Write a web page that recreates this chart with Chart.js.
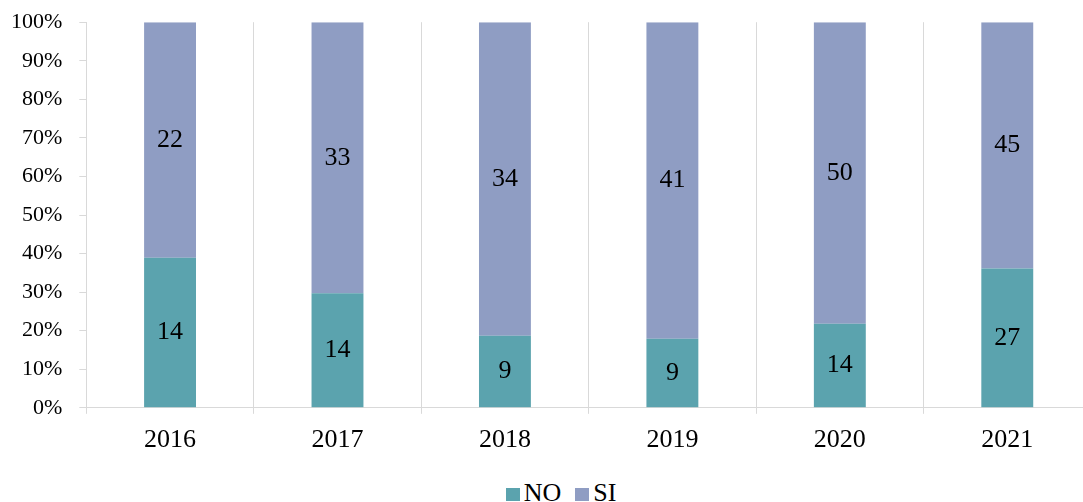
<!DOCTYPE html>
<html>
<head>
<meta charset="utf-8">
<script src="https://cdn.jsdelivr.net/npm/chart.js@4"></script>
<style>
    html, body { margin: 0; padding: 0; background: #fff; overflow: hidden; }
    .page { position: relative; width: 1122px; height: 502px; overflow: hidden; }
    .wrap { width: 1122px; height: 475px; margin-top: -8px; }
    .legend {
        position: absolute; left: 0; top: 478px; width: 1122px;
        text-align: center; line-height: 30px;
        font-family: 'Liberation Serif', 'Times New Roman', serif; font-size: 26px; color: #000;
    }
    .legend .item { display: inline-block; margin: 0 7px; }
    .legend .box { display: inline-block; width: 14px; height: 13px; margin-right: 4px; }
</style>
</head>
<body>
<div class="page">
    <div class="wrap"><canvas id="chart"></canvas></div>
    <div class="legend"></div>
</div>
<script>
var years = ["2016", "2017", "2018", "2019", "2020", "2021"];
// counts shown on the bars
var noCounts = [14, 14, 9, 9, 14, 27];
var siCounts = [22, 33, 34, 41, 50, 45];
// share of each year
var noPct = [38.9, 29.7, 18.7, 17.9, 21.8, 36.1];
var siPct = [61.1, 70.3, 81.3, 82.1, 78.2, 63.9];

var font = "'Liberation Serif', 'Times New Roman', serif";

// draw the counts in the middle of each segment
var countLabels = {
    id: "countLabels",
    afterDatasetsDraw: function(chart) {
        var ctx = chart.ctx;
        ctx.save();
        ctx.fillStyle = "#000";
        ctx.font = "26px " + font;
        ctx.textAlign = "center";
        ctx.textBaseline = "middle";
        chart.data.datasets.forEach(function(ds, i) {
            var meta = chart.getDatasetMeta(i);
            meta.data.forEach(function(bar, j) {
                var mid = (bar.y + bar.base) / 2;
                ctx.fillText(ds.counts[j], bar.x, mid);
            });
        });
        ctx.restore();
    }
};

var chart = new Chart(document.getElementById("chart"), {
    type: "bar",
    data: {
        labels: years,
        datasets: [{
            label: "NO",
            data: noPct,
            counts: noCounts,
            backgroundColor: "#5ba3ae",
            barPercentage: 0.31,
            categoryPercentage: 1
        }, {
            label: "SI",
            data: siPct,
            counts: siCounts,
            backgroundColor: "#8f9dc3",
            barPercentage: 0.31,
            categoryPercentage: 1
        }]
    },
    options: {
        responsive: true,
        maintainAspectRatio: false,
        animation: false,
        layout: { padding: { top: 0, left: -6, right: 31, bottom: 0 } },
        plugins: {
            tooltip: { enabled: false },
            legend: { display: false }
        },
        scales: {
            x: {
                stacked: true,
                grid: {
                    offset: true,
                    color: "#d9d9d9",
                    tickLength: 6
                },
                border: { color: "#d9d9d9" },
                ticks: {
                    color: "#000",
                    font: { family: font, size: 26 },
                    padding: 11
                }
            },
            y: {
                stacked: true,
                min: 0,
                max: 100,
                grid: {
                    drawOnChartArea: false,
                    color: "#d9d9d9",
                    tickLength: 7
                },
                border: { color: "#d9d9d9" },
                ticks: {
                    stepSize: 10,
                    color: "#000",
                    font: { family: font, size: 22 },
                    padding: 17,
                    callback: function(v) { return v + "%"; }
                }
            }
        }
    },
    plugins: [countLabels]
});

// legend built from the datasets
var legend = document.querySelector(".legend");
chart.data.datasets.forEach(function(ds) {
    var item = document.createElement("span");
    item.className = "item";
    var box = document.createElement("span");
    box.className = "box";
    box.style.background = ds.backgroundColor;
    item.appendChild(box);
    item.appendChild(document.createTextNode(ds.label));
    legend.appendChild(item);
});
</script>
</body>
</html>
